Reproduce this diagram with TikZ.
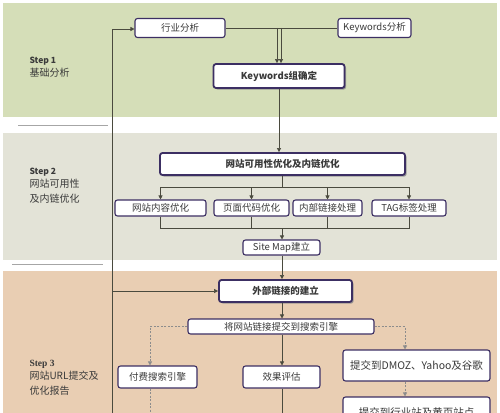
\documentclass[tikz,border=0pt]{standalone}
\usepackage{fontspec}
\setmainfont{Noto Sans CJK SC}
\newfontfamily\serifb{Liberation Serif}
\usetikzlibrary{shadows,arrows.meta}
\definecolor{bandA}{HTML}{D5DEB8}
\definecolor{bandB}{HTML}{E3E3D7}
\definecolor{bandC}{HTML}{E9CEB3}
\definecolor{boxline}{HTML}{3C2F63}
\definecolor{conn}{HTML}{4A4A3E}
\definecolor{txt}{HTML}{3A3A3A}
\tikzset{
  box/.style={draw=boxline, line width=1.1pt, rounded corners=2.5pt, fill=white,
    inner sep=0pt, text=txt, font=\fontsize{9.5}{11}\selectfont},
  mainbox/.style={box, line width=1.8pt, font=\fontsize{9.5}{11}\selectfont\bfseries, drop shadow={shadow xshift=1.6pt, shadow yshift=-1.6pt, fill=black!45, opacity=0.8}},
  ln/.style={draw=conn, line width=0.6pt},
  arr/.style={ln, -{Triangle[length=4pt,width=4pt]}},
  dsh/.style={draw=black!45, line width=0.8pt, dashed, dash pattern=on 2pt off 1.5pt},
  darr/.style={dsh, -{Triangle[length=4pt,width=4pt]}},
  steplbl/.style={anchor=north west, align=left, text=txt, font=\fontsize{10}{15.5}\selectfont},
}
\begin{document}
\begin{tikzpicture}[x=1pt,y=-1pt]
\useasboundingbox (0,0) rectangle (500,412);
\begin{scope}
\clip (0,0) rectangle (500,412);
% bands
\fill[bandA] (3,3) rectangle (497,117);
\fill[bandB] (3,133) rectangle (497,260);
\fill[bandC] (3,271) rectangle (497,414);
\draw[black!35, line width=1pt] (18,125) -- (108,125);
\draw[black!35, line width=1pt] (12,264) -- (103,264);

% step labels
\node[steplbl] (st1) at (26,54) {{\bfseries\fontsize{8.5}{9}\selectfont Step 1}\\[-3pt]基础分析};
\node[steplbl] (st2) at (26,165) {{\bfseries\fontsize{8.5}{9}\selectfont Step 2}\\[-3pt]网站可用性\\及内链优化};
\node[steplbl] (st3) at (26,357) {{\serifb\bfseries\fontsize{9.5}{9}\selectfont Step 3}\\[-3pt]网站URL提交及\\优化报告};

% nodes
\node[box, minimum width=90, minimum height=19] (n1) at (180,28) {行业分析};
\node[box, minimum width=73, minimum height=19] (n2) at (374.5,28) {Keywords分析};
\node[mainbox, minimum width=131, minimum height=24] (n3) at (279,76) {Keywords组确定};
\node[mainbox, minimum width=245, minimum height=22] (n4) at (282.5,164) {网站可用性优化及内链优化};
\node[box, minimum width=91, minimum height=16] (s1) at (160.5,208) {网站内容优化};
\node[box, minimum width=75, minimum height=16] (s2) at (251.5,208) {页面代码优化};
\node[box, minimum width=69, minimum height=16] (s3) at (327.5,208) {内部链接处理};
\node[box, minimum width=74, minimum height=16] (s4) at (409,208) {TAG标签处理};
\node[box, minimum width=77, minimum height=15] (sm) at (281.5,247.5) {Site Map建立};
\node[mainbox, minimum width=133, minimum height=22] (ext) at (285.5,291) {外部链接的建立};
\node[box, minimum width=186, minimum height=15] (sub) at (281,326.5) {将网站链接提交到搜索引擎};
\node[box, minimum width=79, minimum height=22] (pay) at (157.5,377) {付费搜索引擎};
\node[box, minimum width=77, minimum height=22] (eval) at (281.5,377) {效果评估};
\node[box, minimum width=147, minimum height=31, font=\fontsize{10.5}{12}\selectfont] (dmoz) at (416.5,365.5) {提交到DMOZ、Yahoo及谷歌};
\node[box, minimum width=147, minimum height=30, font=\fontsize{10.5}{12}\selectfont] (ind) at (416.5,412) {提交到行业站及黄页站点};

% helper coordinates
\coordinate (L0) at (112,29);
\coordinate (Lb) at (112,414);
\coordinate (br) at (282,187);
\coordinate (mg) at (282,228);
\coordinate (pj) at (150,0);
\coordinate (dj) at (405,0);
\coordinate (bot) at (0,414);

% connectors step 1
\draw[ln] (n1.east) -- (n2.west);
\draw[arr] ([xshift=-2pt]n3.north |- n1.east) -- ([xshift=-2pt]n3.north);
\draw[arr] ([xshift=2pt]n3.north |- n1.east) -- ([xshift=2pt]n3.north);
\draw[ln] (Lb) -- (L0);
\draw[arr] (L0) -- (n1.west |- L0);
\draw[arr] (n3.south) -- (n3.south |- n4.north);

% step 2
\draw[ln] (n4.south -| br) -- (br);
\draw[ln] (s1.north |- br) -- (s4.north |- br);
\draw[arr] (s1.north |- br) -- (s1.north);
\draw[arr] (s2.north |- br) -- (s2.north);
\draw[arr] (s3.north |- br) -- (s3.north);
\draw[arr] (s4.north |- br) -- (s4.north);
\draw[ln] (s1.south) -- (s1.south |- mg) -- (s4.south |- mg) -- (s4.south);
\draw[ln] (s2.south) -- (s2.south |- mg);
\draw[ln] (s3.south) -- (s3.south |- mg);
\draw[arr] (mg) -- (mg |- sm.north);

% step 3
\draw[arr] (sm.south -| br) -- (br |- ext.north);
\draw[arr] (Lb |- ext.west) -- (ext.west);
\draw[arr] (br |- ext.south) -- (br |- sub.north);
\draw[arr] (br |- sub.south) -- (br |- eval.north);
\draw[ln] (br |- eval.south) -- (br |- bot);
\draw[darr] (sub.west) -- (pj |- sub.west) -- (pj |- pay.north);
\draw[dsh] (pj |- pay.south) -- (pj |- bot);
\draw[darr] (sub.east) -- (dj |- sub.east) -- (dj |- dmoz.north);
\draw[darr] (dj |- dmoz.south) -- (dj |- ind.north);
\end{scope}
\end{tikzpicture}
\end{document}
